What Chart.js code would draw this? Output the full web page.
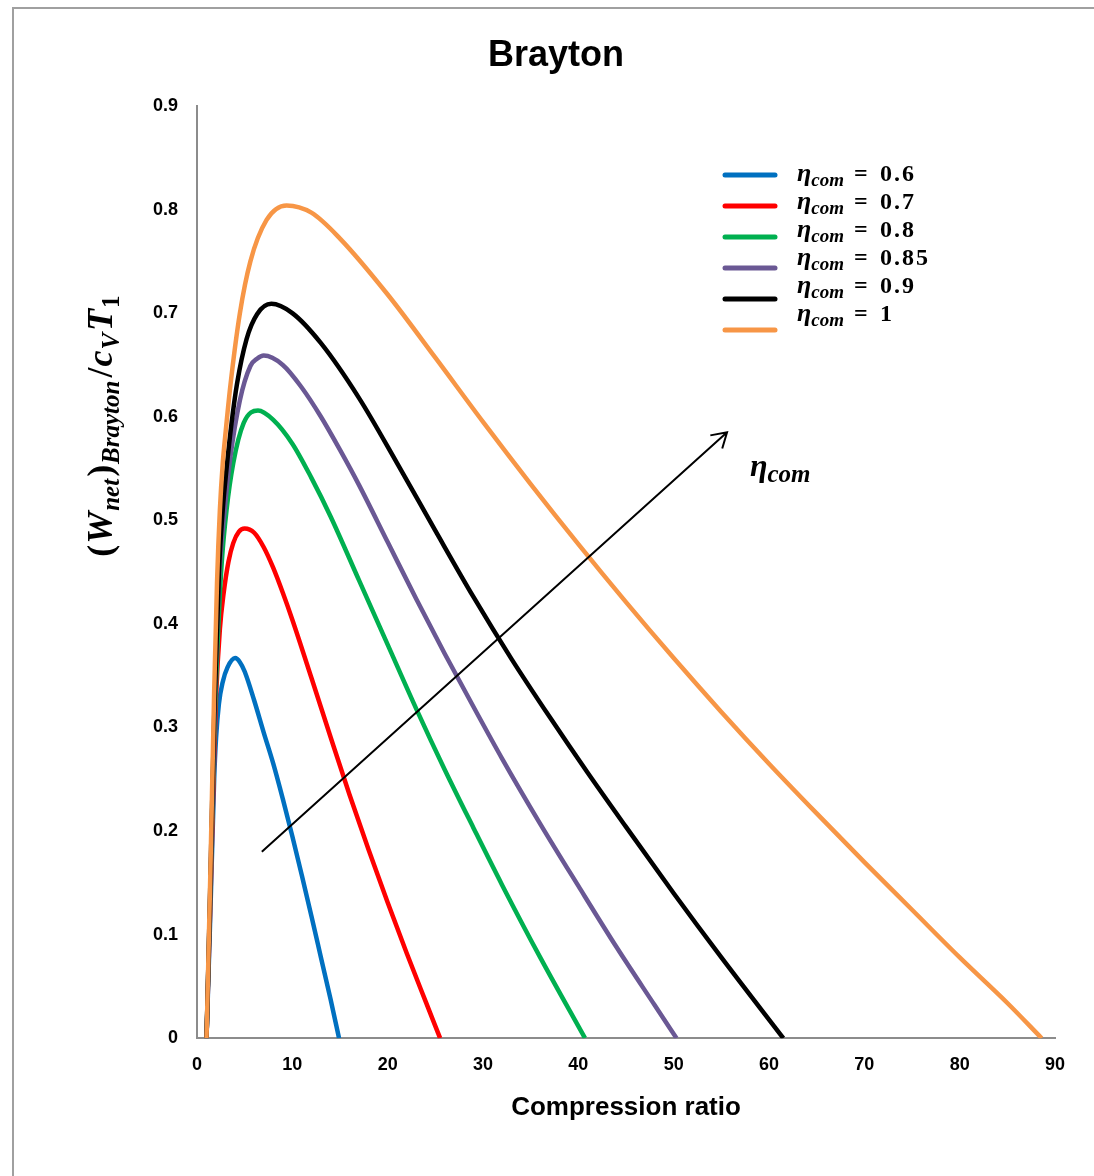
<!DOCTYPE html>
<html>
<head>
<meta charset="utf-8">
<title>Brayton</title>
<script src="https://cdn.jsdelivr.net/npm/chart.js@4.4.1/dist/chart.umd.min.js"></script>
<style>
html,body{margin:0;padding:0;background:#fff;overflow:hidden;width:1094px;height:1176px}
#frame{position:absolute;left:12px;top:7px;width:1090px;height:1180px;border-left:2px solid #a0a0a0;border-top:2px solid #a0a0a0}
</style>
</head>
<body>
<div id="frame"><canvas id="chart"></canvas></div>
<script>

// compression ratio / net work values
const r06 = [1, 1.4, 1.8, 2.0, 2.3, 2.7, 3.2, 4.0, 4.5, 5.0, 6, 7, 8, 9, 10, 11, 12, 13, 14, 14.9]
const w06 = [0, 0.12, 0.25, 0.29, 0.323, 0.344, 0.358, 0.367, 0.363, 0.354, 0.326, 0.295, 0.265, 0.231, 0.195, 0.157, 0.118, 0.078, 0.038, 0]

const r07 = [1, 1.4, 1.8, 2.0, 2.4, 2.8, 3.3, 3.8, 4.4, 5.0, 6, 7, 8, 9, 10, 12, 14, 16, 18, 20, 22, 24, 25.5]
const w07 = [0, 0.13, 0.27, 0.33, 0.395, 0.43, 0.46, 0.478, 0.489, 0.492, 0.488, 0.474, 0.454, 0.43, 0.404, 0.348, 0.291, 0.235, 0.182, 0.131, 0.082, 0.035, 0]

const r08 = [1, 1.4, 1.8, 2.3, 2.6, 3.1, 3.8, 4.9, 6.4, 8, 10, 12, 14, 17, 20, 23, 26, 29, 32, 36, 40.7]
const w08 = [0, 0.14, 0.29, 0.41, 0.46, 0.51, 0.555, 0.594, 0.606, 0.597, 0.574, 0.541, 0.504, 0.442, 0.38, 0.318, 0.259, 0.203, 0.148, 0.078, 0]

const r085 = [1, 1.4, 1.8, 2.3, 2.9, 3.5, 4.5, 5.6, 6.3, 7.0, 9, 11, 13, 15, 17, 20, 23, 26, 29, 32, 36, 40, 44, 48, 50.3]
const w085 = [0, 0.145, 0.30, 0.44, 0.51, 0.561, 0.616, 0.649, 0.656, 0.659, 0.65, 0.628, 0.60, 0.568, 0.534, 0.479, 0.424, 0.371, 0.32, 0.27, 0.207, 0.147, 0.088, 0.032, 0]

const r09 = [1, 1.4, 1.8, 2.3, 2.7, 3.1, 3.6, 4.2, 5.2, 6.3, 7.8, 10, 13, 17, 21, 25, 29, 33, 37, 41, 45, 50, 55, 61.5]
const w09 = [0, 0.15, 0.31, 0.45, 0.51, 0.55, 0.592, 0.632, 0.675, 0.699, 0.709, 0.70, 0.671, 0.618, 0.555, 0.49, 0.426, 0.366, 0.31, 0.256, 0.204, 0.14, 0.078, 0]

const r10 = [1, 1.4, 1.8, 2.1, 2.4, 2.7, 3.0, 3.5, 4.5, 5.6, 7.3, 9.4, 12, 15, 20, 25, 30, 35, 40, 45, 50, 55, 60, 65, 70, 75, 80, 85, 88.6]
const w10 = [0, 0.16, 0.335, 0.44, 0.51, 0.555, 0.585, 0.63, 0.70, 0.75, 0.79, 0.804, 0.797, 0.772, 0.718, 0.657, 0.595, 0.535, 0.477, 0.421, 0.367, 0.315, 0.265, 0.217, 0.170, 0.124, 0.078, 0.034, 0]

const etaLabels = ["0.6", "0.7", "0.8", "0.85", "0.9", "1"]
const colors = ["#0070C0", "#FF0000", "#00B050", "#6A5894", "#000000", "#F79646"]
const xs = [r06, r07, r08, r085, r09, r10]
const ys = [w06, w07, w08, w085, w09, w10]

const xTicks = [0, 10, 20, 30, 40, 50, 60, 70, 80, 90]
const yTicks = ["0", "0.1", "0.2", "0.3", "0.4", "0.5", "0.6", "0.7", "0.8", "0.9"]

// arrow showing increasing compressor efficiency (data coords)
const arrowFrom = [6.8, 0.18]
const arrowTo = [55.6, 0.585]
const arrowText = [58.0, 0.543]

const datasets = xs.map((xv, i) => ({
  label: etaLabels[i],
  data: xv.map((v, j) => ({x: v, y: ys[i][j]})),
  borderColor: colors[i],
  borderWidth: 4.5,
  pointRadius: 0,
  fill: false,
  cubicInterpolationMode: "monotone",
  order: xs.length - 1 - i
}))

const serif = '"Liberation Serif", "DejaVu Serif", serif'
const sans = '"Liberation Sans", Arial, sans-serif'

function drawPieces(ctx, pieces, x0, y0){
  let x = x0
  pieces.forEach(p => {
    ctx.font = p.font
    ctx.fillText(p.t, x, y0 + (p.dy || 0))
    x += ctx.measureText(p.t).width + (p.gap || 0)
  })
  return x
}

function piecesWidth(ctx, pieces){
  let w = 0
  pieces.forEach(p => {
    ctx.font = p.font
    w += ctx.measureText(p.t).width + (p.gap || 0)
  })
  return w
}

const decor = {
  id: "decor",
  afterDatasetsDraw(chart){
    const {ctx, chartArea: a, scales} = chart
    const sx = scales.x, sy = scales.y
    ctx.save()
    ctx.fillStyle = "#000"

    // title (drawn here so it centres on the whole frame)
    ctx.font = "bold 36px " + sans
    ctx.textAlign = "center"
    ctx.textBaseline = "middle"
    ctx.fillText("Brayton", chart.width / 2 - 3, 47)

    ctx.textBaseline = "alphabetic"
    ctx.textAlign = "left"

    // arrow
    const x0 = sx.getPixelForValue(arrowFrom[0]), y0 = sy.getPixelForValue(arrowFrom[1])
    const x1 = sx.getPixelForValue(arrowTo[0]), y1 = sy.getPixelForValue(arrowTo[1])
    ctx.strokeStyle = "#000"
    ctx.lineWidth = 2
    ctx.beginPath()
    ctx.moveTo(x0, y0)
    ctx.lineTo(x1, y1)
    const ang = Math.atan2(y1 - y0, x1 - x0)
    const hl = 17
    ctx.moveTo(x1 - hl * Math.cos(ang - 0.55), y1 - hl * Math.sin(ang - 0.55))
    ctx.lineTo(x1, y1)
    ctx.lineTo(x1 - hl * Math.cos(ang + 0.55), y1 - hl * Math.sin(ang + 0.55))
    ctx.stroke()

    // eta_com next to the arrow
    drawPieces(ctx, [
      {t: "\u03b7", font: "bold italic 32px " + serif},
      {t: "com", font: "bold italic 25px " + serif, dy: 6}
    ], sx.getPixelForValue(arrowText[0]), sy.getPixelForValue(arrowText[1]))

    // legend
    etaLabels.forEach((lab, i) => {
      const ly = a.top + 69 + 31 * i
      ctx.strokeStyle = colors[i]
      ctx.lineWidth = 5
      ctx.lineCap = "round"
      ctx.beginPath()
      ctx.moveTo(a.left + 528, ly)
      ctx.lineTo(a.left + 578, ly)
      ctx.stroke()
      const ty = a.top + 75 + 28 * i
      drawPieces(ctx, [
        {t: "\u03b7", font: "bold italic 26px " + serif},
        {t: "com", font: "bold italic 19px " + serif, dy: 5}
      ], a.left + 600, ty)
      ctx.font = "bold 24px " + serif
      ctx.fillText("=", a.left + 657, ty)
      ctx.letterSpacing = "2px"
      ctx.fillText(lab, a.left + 683, ty)
      ctx.letterSpacing = "0px"
    })

    // y axis title, rotated
    const main = "bold italic 36px " + serif
    const sub = "bold italic 25px " + serif
    const up = "bold 36px " + serif
    const pieces = [
      {t: "(", font: up, gap: 1},
      {t: "W", font: main, gap: 1},
      {t: "net", font: sub, dy: 7, gap: 2},
      {t: ")", font: up, gap: 1},
      {t: "Brayton", font: sub, dy: 7, gap: 3},
      {t: "/", font: up, gap: 1},
      {t: "c", font: main, gap: 1},
      {t: "V", font: sub, dy: 7, gap: 2},
      {t: "T", font: main, gap: 1},
      {t: "1", font: "bold 25px " + serif, dy: 7}
    ]
    const w = piecesWidth(ctx, pieces)
    ctx.translate(a.left - 85, (a.top + a.bottom) / 2 - 146)
    ctx.rotate(-Math.PI / 2)
    drawPieces(ctx, pieces, -w / 2, 0)
    ctx.restore()
  }
}

new Chart(document.getElementById("chart"), {
  type: "line",
  data: {datasets: datasets},
  options: {
    responsive: true,
    maintainAspectRatio: false,
    animation: false,
    events: [],
    layout: {padding: {left: 0, right: 49, top: 97, bottom: 66}},
    plugins: {
      legend: {display: false},
      tooltip: {enabled: false},
      title: {display: false}
    },
    scales: {
      x: {
        type: "linear",
        min: 0,
        max: 90,
        afterBuildTicks: s => { s.ticks = xTicks.map(v => ({value: v})) },
        ticks: {
          color: "#000",
          padding: 16,
          font: {family: sans, size: 18, weight: "bold"}
        },
        grid: {drawOnChartArea: false, drawTicks: false},
        border: {color: "#8c8c8c", width: 2},
        title: {
          display: true,
          text: "Compression ratio",
          color: "#000",
          font: {family: sans, size: 26, weight: "bold"},
          padding: {top: 0, bottom: 0}
        }
      },
      y: {
        min: 0,
        max: 0.9,
        afterBuildTicks: s => { s.ticks = yTicks.map(v => ({value: parseFloat(v)})) },
        afterFit: s => { s.width = 183 },
        ticks: {
          color: "#000",
          padding: 19,
          callback: (v, i) => yTicks[i],
          font: {family: sans, size: 18, weight: "bold"}
        },
        grid: {drawOnChartArea: false, drawTicks: false},
        border: {color: "#8c8c8c", width: 2}
      }
    }
  },
  plugins: [decor]
})
</script>
</body>
</html>
